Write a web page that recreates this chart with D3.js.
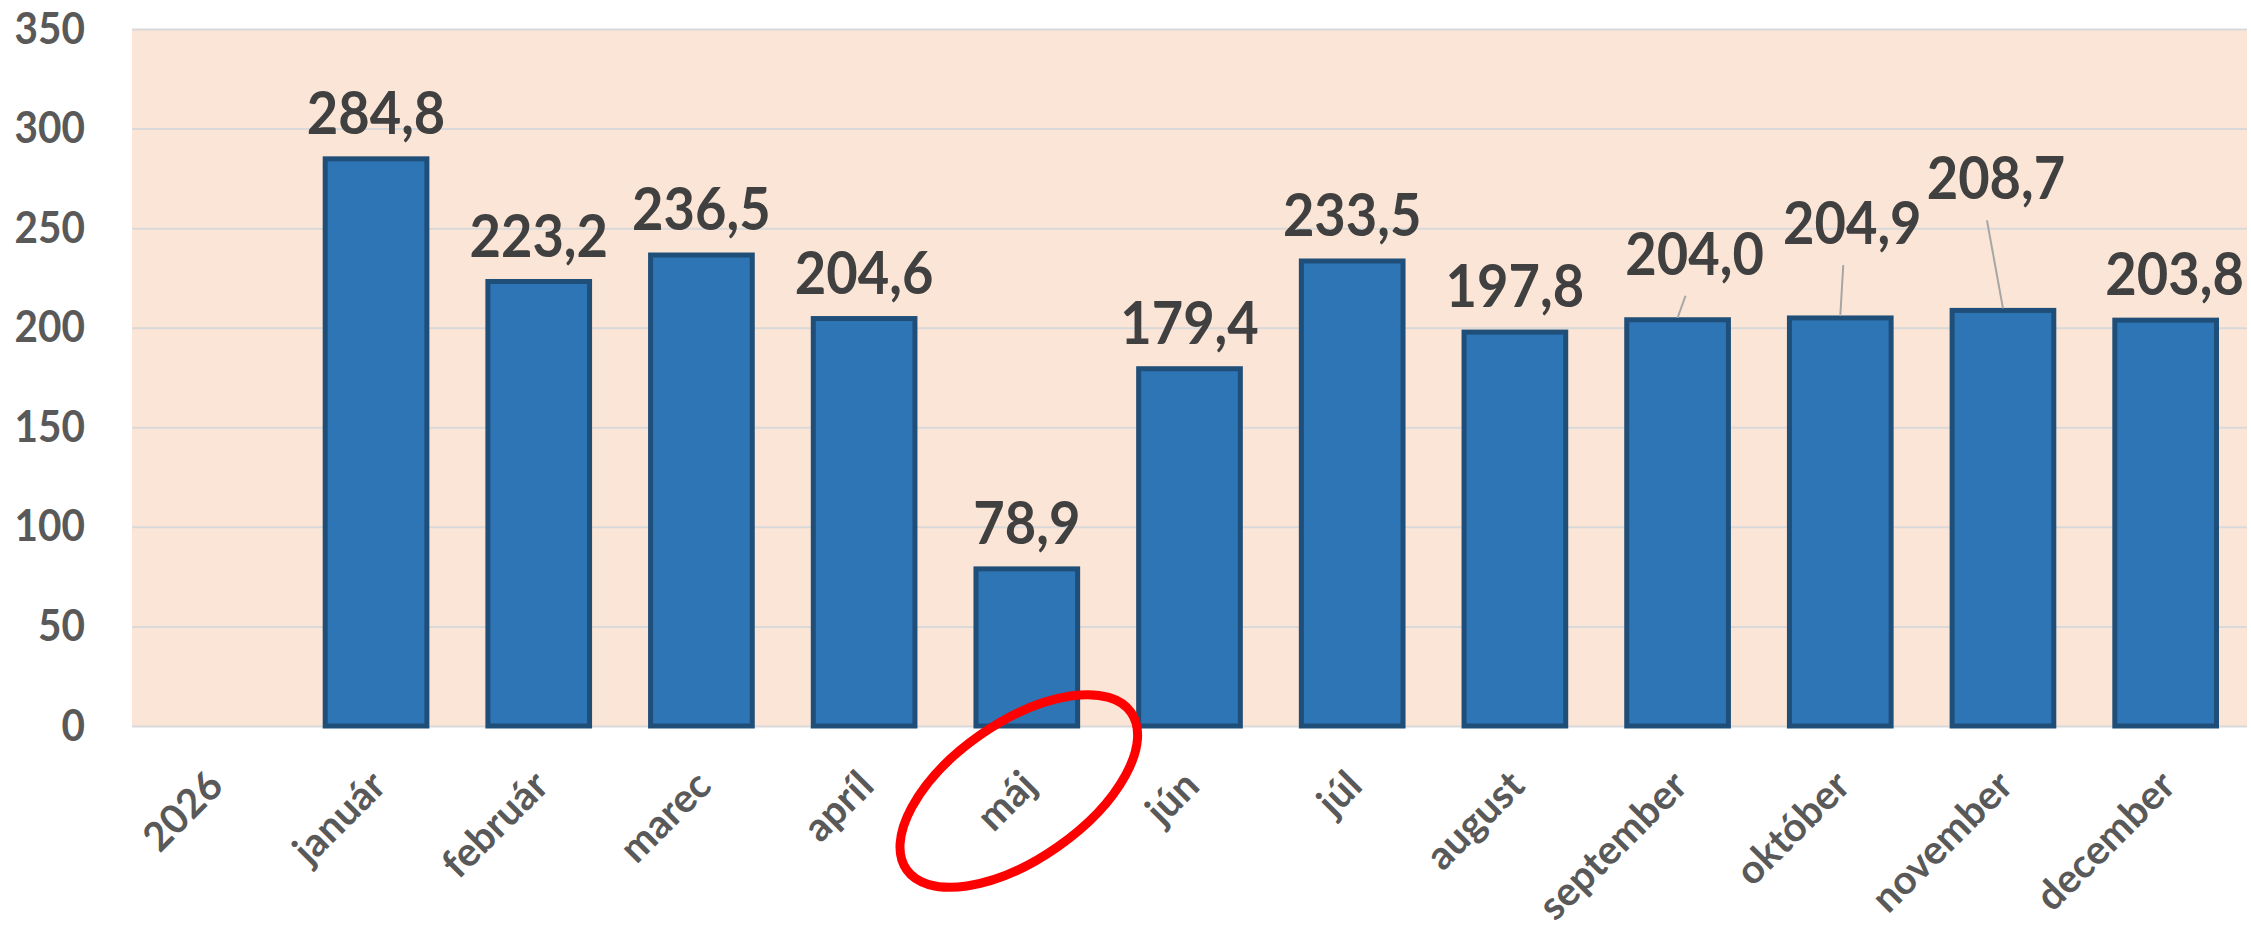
<!DOCTYPE html>
<html>
<head>
  <meta charset="utf-8">
  <title>Mesačné hodnoty 2026</title>
  <script src="https://d3js.org/d3.v7.min.js"></script>
  <style>
    body { margin: 0; background: #fff; }
    svg text { font-family: Lato, "Open Sans", sans-serif; font-weight: bold; }
    .grid line { stroke: #d9d9d9; stroke-width: 2px; }
    .y-axis text { fill: #595959; font-size: 44px; }
    .x-axis text { fill: #595959; font-size: 40px; }
    .bar { fill: #2e75b6; stroke: #1f4e79; stroke-width: 5px; }
    .label { fill: #404040; font-size: 59px; }
    .leader { stroke: #a6a6a6; stroke-width: 2px; }
  </style>
</head>
<body>
  <script>
    const categories = ["2026", "január", "február", "marec", "apríl", "máj", "jún",
      "júl", "august", "september", "október", "november", "december"];
    const values = [null, 284.8, 223.2, 236.5, 204.6, 78.9, 179.4, 233.5, 197.8, 204.0, 204.9, 208.7, 203.8];
    const yTicks = [0, 50, 100, 150, 200, 250, 300, 350];
    const highlighted = "máj";

    // labels Excel pushed away from their bars (dx, dy in px), some with leader lines
    const labelShift = {
      "september": { dx: 17, dy: -20, leader: true },
      "október": { dx: 12, dy: -49, leader: true },
      "november": { dx: -7, dy: -86, leader: true },
      "december": { dx: 9, dy: 0, leader: false }
    };

    const width = 2251;
    const height = 940;
    const plot = { left: 132, right: 2247, top: 29, bottom: 726 };
    const squeeze = 0.92; // narrow the glyphs a bit, the original font is condensed

    const x = d3.scaleBand()
      .domain(categories)
      .range([plot.left, plot.right])
      .paddingInner(0.375)
      .paddingOuter(0.1875);

    const y = d3.scaleLinear()
      .domain([0, 350])
      .range([plot.bottom, plot.top]);

    const svg = d3.select("body").append("svg")
      .attr("width", width)
      .attr("height", height);

    // plot background
    svg.append("rect")
      .attr("x", plot.left)
      .attr("y", plot.top)
      .attr("width", plot.right - plot.left)
      .attr("height", plot.bottom - plot.top)
      .attr("fill", "#fbe5d6");

    // gridlines
    svg.append("g")
      .attr("class", "grid")
      .attr("transform", `translate(${plot.left},0)`)
      .call(d3.axisLeft(y).tickValues(yTicks).tickSize(-(plot.right - plot.left)).tickFormat(""))
      .call(g => g.select(".domain").remove());

    // y axis labels
    svg.append("g")
      .attr("class", "y-axis")
      .attr("transform", `translate(${plot.left},0)`)
      .call(d3.axisLeft(y).tickValues(yTicks).tickSize(0).tickPadding(47))
      .call(g => g.select(".domain").remove())
      .selectAll("text")
      .attr("font-family", null)
      .attr("font-size", null)
      .attr("x", -47 / squeeze)
      .attr("transform", `scale(${squeeze},1)`);

    // x axis labels, rotated
    svg.append("g")
      .attr("class", "x-axis")
      .attr("transform", `translate(0,${plot.bottom})`)
      .call(d3.axisBottom(x).tickSize(0))
      .call(g => g.select(".domain").remove())
      .selectAll("text")
      .attr("font-family", null)
      .attr("font-size", null)
      .attr("text-anchor", "end")
      .attr("dy", null)
      .attr("y", 0)
      .attr("transform", "translate(12,62) rotate(-45)");

    const data = categories.map((c, i) => ({ cat: c, value: values[i] }))
      .filter(d => d.value != null);

    // bars
    svg.append("g")
      .selectAll("rect")
      .data(data)
      .join("rect")
      .attr("class", "bar")
      .attr("x", d => x(d.cat))
      .attr("y", d => y(d.value))
      .attr("width", x.bandwidth())
      .attr("height", d => y(0) - y(d.value));

    const fmt = v => d3.format(".1f")(v).replace(".", ",");
    const labelPos = d => {
      const s = labelShift[d.cat] || { dx: 0, dy: 0 };
      return { x: x(d.cat) + x.bandwidth() / 2 + s.dx, y: y(d.value) - 25 + s.dy };
    };

    // leader lines
    svg.append("g")
      .selectAll("line")
      .data(data.filter(d => labelShift[d.cat] && labelShift[d.cat].leader))
      .join("line")
      .attr("class", "leader")
      .attr("x1", d => labelPos(d).x - 9)
      .attr("y1", d => labelPos(d).y + 21)
      .attr("x2", d => x(d.cat) + x.bandwidth() / 2)
      .attr("y2", d => y(d.value) - 2);

    // data labels
    svg.append("g")
      .selectAll("text")
      .data(data)
      .join("text")
      .attr("class", "label")
      .attr("text-anchor", "middle")
      .attr("transform", d => `translate(${labelPos(d).x},${labelPos(d).y}) scale(${squeeze},1)`)
      .text(d => fmt(d.value));

    // red ellipse around the highlighted month label
    const hx = x(highlighted) + x.bandwidth() / 2;
    svg.append("ellipse")
      .attr("cx", 0)
      .attr("cy", 0)
      .attr("rx", 137)
      .attr("ry", 68)
      .attr("transform", `translate(${hx - 8},${plot.bottom + 65}) rotate(-35)`)
      .attr("fill", "none")
      .attr("stroke", "#ff0000")
      .attr("stroke-width", 9);
  </script>
</body>
</html>
